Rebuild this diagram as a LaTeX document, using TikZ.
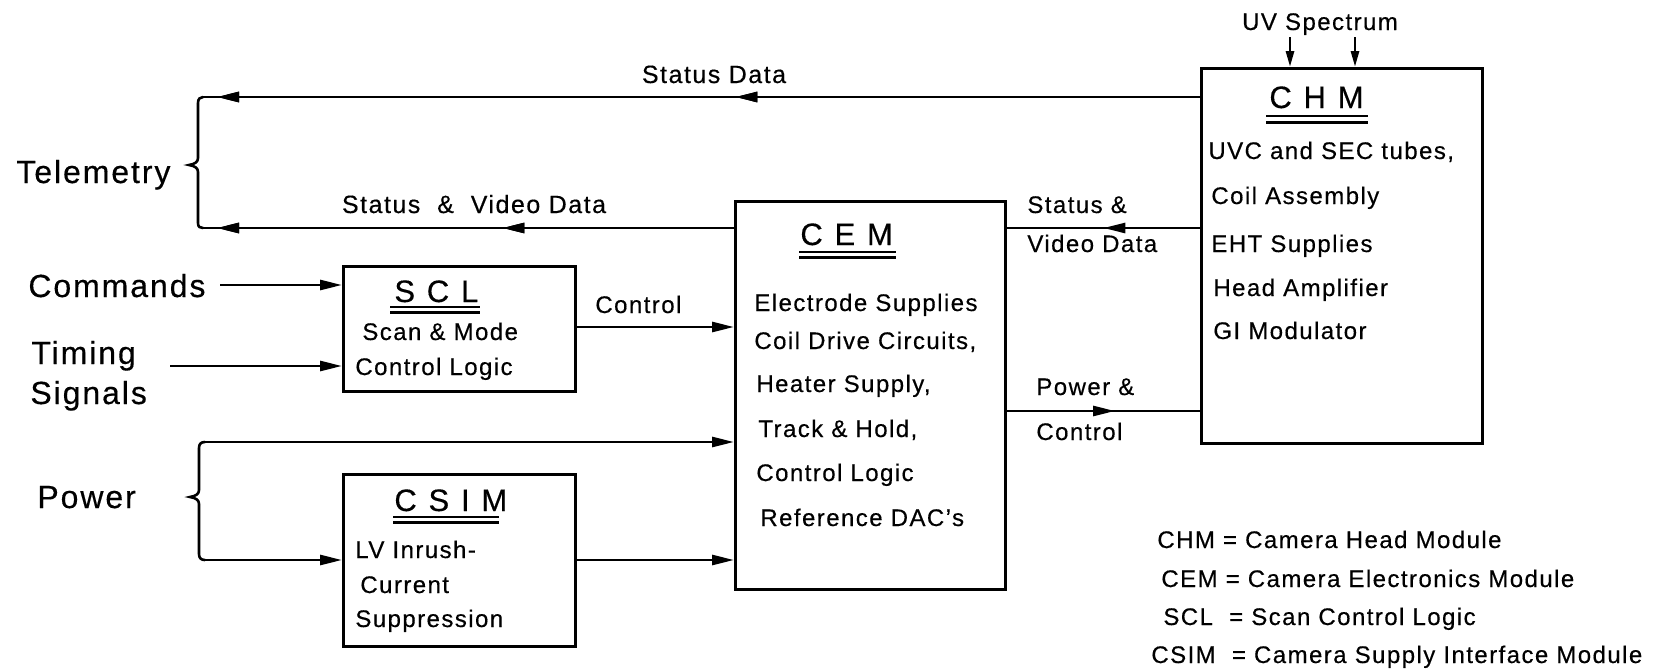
\documentclass[tikz,border=0pt]{standalone}
\usepackage{fontspec}
\setmainfont{Liberation Sans}[LetterSpace=6.0,FakeBold=0.4]
\usetikzlibrary{arrows.meta,decorations.markings}
\begin{document}
\begin{tikzpicture}[x=1pt,y=-1pt,
  line width=2.8pt,
  box/.style={draw,line width=2.8pt,inner sep=0pt,anchor=north west},
  txt/.style={inner sep=0pt,anchor=base west,font=\fontsize{24}{28}\selectfont},
  ctxt/.style={txt,anchor=base},
  lbl/.style={inner sep=0pt,anchor=base,font=\fontsize{25}{29}\selectfont},
  big/.style={inner sep=0pt,anchor=base west,font=\fontsize{32}{36}\selectfont},
  ttl/.style={inner sep=0pt,anchor=base west,font=\fontsize{31}{34}\selectfont\addfontfeatures{LetterSpace=38}},
  tip/.style={-{Triangle[length=22pt,width=10pt]}},
  uvtip/.style={-{Triangle[length=16pt,width=8pt]}},
  midarrow/.style={postaction={decorate},decoration={markings,
      mark=at position #1 with {\arrow{Triangle[length=22pt,width=10pt]}}}},
  ulthin/.style={line width=1.8pt},
  ulthick/.style={line width=3pt},
  bracepath/.style={line width=2.6pt,line cap=round}]

\useasboundingbox (0,0) rectangle (1674,670);

% module boxes
\node[box,minimum width=281pt,minimum height=375pt] (chm)  at (1200,67)  {};
\node[box,minimum width=270pt,minimum height=388pt] (cem)  at (734,200)  {};
\node[box,minimum width=232pt,minimum height=125pt] (scl)  at (342,265)  {};
\node[box,minimum width=232pt,minimum height=172pt] (csim) at (342,473)  {};

% titles with double underlines
\node[ttl] (chmT)  at (1268,108) {CHM};
\node[ttl] (cemT)  at (799,245)  {CEM};
\node[ttl] (sclT)  at (393,302)  {SCL};
\node[ttl] (csimT) at (393,511)  {CSIM};
\draw[ulthin]  (1266,116) -- (1368,116);
\draw[ulthick] (1266,122) -- (1368,122);
\draw[ulthin]  (799,252) -- (896,252);
\draw[ulthick] (799,257) -- (896,257);
\draw[ulthin]  (390,307) -- (480,307);
\draw[ulthick] (390,312) -- (480,312);
\draw[ulthin]  (393,517) -- (499,517);
\draw[ulthick] (393,522) -- (499,522);

% box contents
\node[txt] (chm1) at (1207,159) {UVC and SEC tubes,};
\node[txt] (chm2) at (1210,204) {Coil Assembly};
\node[txt] (chm3) at (1210,252) {EHT Supplies};
\node[txt] (chm4) at (1212,296) {Head Amplifier};
\node[txt] (chm5) at (1212,339) {GI Modulator};

\node[txt] (cem1) at (753,311) {Electrode Supplies};
\node[txt] (cem2) at (753,349) {Coil Drive Circuits,};
\node[txt] (cem3) at (755,392) {Heater Supply,};
\node[txt] (cem4) at (757,437) {Track \& Hold,};
\node[txt] (cem5) at (755,481) {Control Logic};
\node[txt] (cem6) at (759,526) {Reference DAC's};

\node[txt] (scl1) at (361,340) {Scan \& Mode};
\node[txt] (scl2) at (354,375) {Control Logic};

\node[txt] (csim1) at (354,558) {LV Inrush-};
\node[txt] (csim2) at (359,593) {Current};
\node[txt] (csim3) at (354,627) {Suppression};

% external signal names
\node[big] (telem)  at (15,183)  {Telemetry};
\node[big] (cmd)    at (27,297)  {Commands};
\node[big] (timing) at (30,364)  {Timing};
\node[big] (sig)    at (29,404)  {Signals};
\node[big] (power)  at (36,508)  {Power};
\node[ctxt] (uv)    at (1320,30) {UV Spectrum};

% connector labels
\node[lbl]  (lsd)  at (714,83)  {Status Data};
\node[lbl]  (lsvd) at (474,213) {Status \ \& \ Video Data};
\node[txt]  (lsv1) at (1026,213) {Status \&};
\node[txt]  (lsv2) at (1026,252) {Video Data};
\node[txt]  (lpc1) at (1035,395) {Power \&};
\node[txt]  (lpc2) at (1035,440) {Control};
\node[txt]  (lctl) at (594,313)  {Control};

% legend
\node[txt] (leg1) at (1156,548) {CHM = Camera Head Module};
\node[txt] (leg2) at (1160,587) {CEM = Camera Electronics Module};
\node[txt] (leg3) at (1162,625) {SCL \ = Scan Control Logic};
\node[txt] (leg4) at (1150,663) {CSIM \ = Camera Supply Interface Module};

% brace ends and free line ends
\coordinate (tmTop) at (203,97);
\coordinate (tmBot) at (203,228);
\coordinate (pwTop) at (205,442);
\coordinate (pwBot) at (205,560);
\coordinate (cmdS)  at (220,285);
\coordinate (timS)  at (170,366);
\coordinate (ctl)   at (0,327);
\coordinate (pc)    at (0,411);
\coordinate (uv1)   at (1290,37);
\coordinate (uv2)   at (1355,37);

% telemetry and power braces
\draw[bracepath] (tmTop) .. controls (200,97) and (198,99) .. (198,103) -- (198,158)
  .. controls (198,162) and (195,164) .. (189,165)
  .. controls (195,166) and (198,168) .. (198,172) -- (198,223)
  .. controls (198,227) and (200,228) .. (tmBot);
\draw[bracepath] (pwTop) .. controls (201,442) and (199,444) .. (199,448) -- (199,490)
  .. controls (199,494) and (196,496) .. (190,497)
  .. controls (196,498) and (199,500) .. (199,504) -- (199,554)
  .. controls (199,558) and (201,560) .. (pwBot);

% data paths to telemetry
\draw[midarrow=0.466,midarrow=-14pt] (chm.west |- tmTop) -- (tmTop);
\draw[midarrow=0.436,midarrow=-14pt] (cem.west |- tmBot) -- (tmBot);
\draw[midarrow=0.5] (chm.west |- tmBot) -- (cem.east |- tmBot);
\draw[midarrow=0.56] (cem.east |- pc) -- (chm.west |- pc);

% commands, timing and control
\draw[tip] (cmdS) -- (scl.west |- cmdS);
\draw[tip] (timS) -- (scl.west |- timS);
\draw[tip] (scl.east |- ctl) -- (cem.west |- ctl);

% power feeds
\draw[tip] (pwTop) -- (cem.west |- pwTop);
\draw[tip] (pwBot) -- (csim.west |- pwBot);
\draw[tip] (csim.east |- pwBot) -- (cem.west |- pwBot);

% UV input
\draw[uvtip] (uv1) -- (uv1 |- chm.north);
\draw[uvtip] (uv2) -- (uv2 |- chm.north);
\end{tikzpicture}
\end{document}
